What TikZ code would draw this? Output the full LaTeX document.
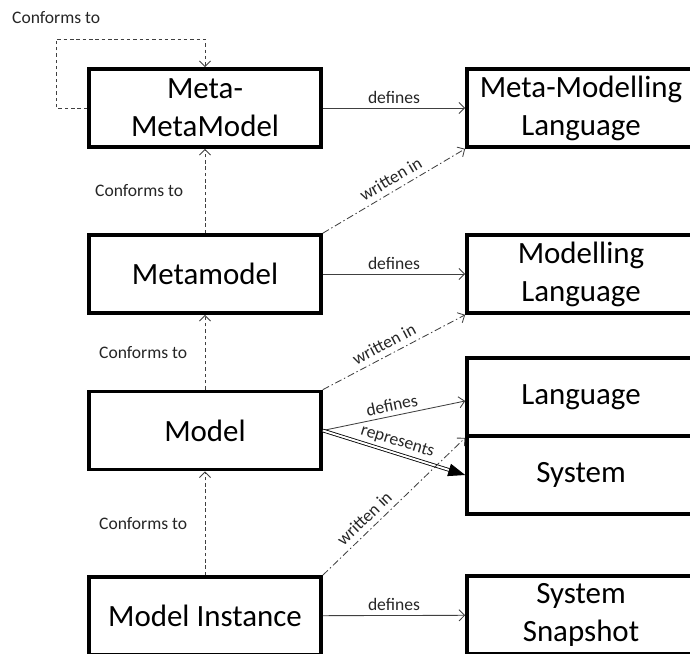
\documentclass[tikz,border=0pt]{standalone}
\usepackage{fontspec}
\setmainfont{Carlito}
\usetikzlibrary{arrows.meta,positioning}

\begin{document}
\begin{tikzpicture}[scale=1,
  >={Straight Barb[length=4pt,width=8pt]},
  box/.style={draw, line width=2.6pt, minimum width=5.8cm, minimum height=1.95cm, align=center, font=\fontsize{22}{27}\selectfont},
  rbox/.style={box, minimum width=5.7cm},
  lbl/.style={font=\fontsize{12.5}{14}\selectfont, text=black!85, inner sep=1pt},
  conn/.style={draw=black!75, line width=0.6pt},
  conforms/.style={conn, ->, dash pattern=on 2.5pt off 2pt},
  writtenin/.style={conn, ->, dash pattern=on 5pt off 2pt on 1pt off 2pt}]

\clip (0,0) rectangle (17.25,16.325);

% models on the left
\path
(5.125,13.625) node[box] (mmm)      {Meta-\\MetaModel}
(5.125,9.475)  node[box] (metamodel) {Metamodel}
(5.125,5.5625) node[box] (model)    {Model}
(5.125,0.925)  node[box] (instance) {Model Instance};

% languages on the right
\path
(14.525,13.625) node[rbox] (mml)      {Meta-Modelling\\Language}
(14.525,9.475)  node[rbox] (ml)       {Modelling\\Language}
(14.525,6.4)    node[rbox] (language) {Language}
(14.525,4.45)   node[rbox] (system)   {System}
(14.525,0.95)   node[rbox] (snapshot) {System\\Snapshot};

% defines
\draw[conn, ->] (mmm) -- (mml) node[lbl, midway, above=2pt]{defines};
\draw[conn, ->] (metamodel) -- (ml) node[lbl, midway, above=2pt]{defines};
\draw[conn, ->] (model.east) -- ([yshift=-0.1cm]language.west) node[lbl, midway, above=2pt, sloped]{defines};
\draw[conn, ->] (instance) -- (snapshot) node[lbl, midway, above=2pt]{defines};

% represents
\draw[black, line width=0.6pt, double, double distance=1.4pt, -{Triangle[length=12pt,width=9pt]}]
 (model.east) -- (system.west) node[lbl, midway, above=2pt, sloped]{represents};

% written in
\draw[writtenin] (metamodel.north east) -- (mml.south west) node[lbl, pos=0.52, above=3pt, sloped]{written in};
\draw[writtenin] (model.north east) -- (ml.south west) node[lbl, pos=0.47, above=3pt, sloped]{written in};
\draw[writtenin] (instance.north east) -- (language.south west) node[lbl, pos=0.35, above=3pt, sloped]{written in};

% conforms to
\draw[conforms] (metamodel) -- (mmm) node[lbl, midway, left=0.5cm]{Conforms to};
\draw[conforms] (model) -- (metamodel) node[lbl, midway, left=0.4cm]{Conforms to};
\draw[conforms] (instance) -- (model) node[lbl, midway, left=0.4cm]{Conforms to};
\draw[conforms] (mmm.west) -- ++(-0.775,0) -- ++(0,1.725) node[lbl, above=0.35cm]{Conforms to} -| (mmm.north);

\end{tikzpicture}
\end{document}
